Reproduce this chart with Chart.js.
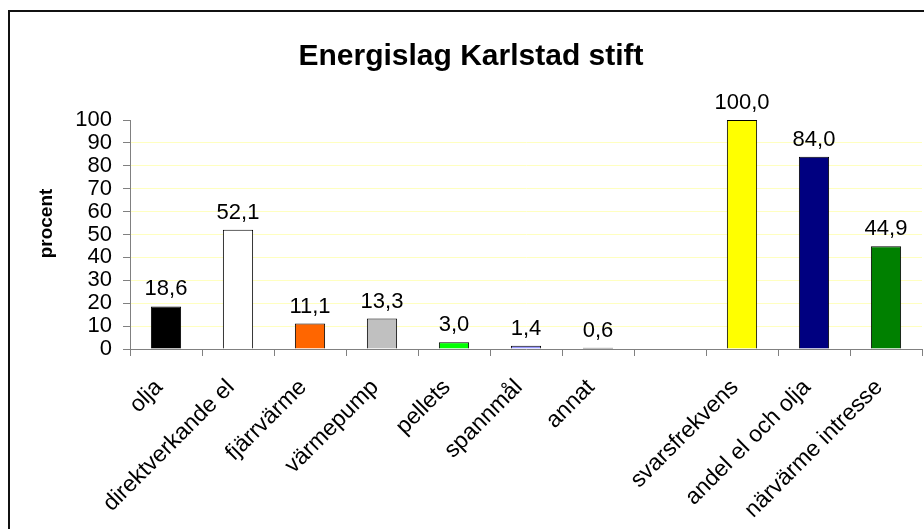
<!DOCTYPE html>
<html>
<head>
<meta charset="utf-8">
<script src="https://cdn.jsdelivr.net/npm/chart.js@4/dist/chart.umd.min.js"></script>
<style>
  html, body { margin: 0; padding: 0; background: #fff; overflow: hidden; }
  #wrap { position: relative; width: 924px; height: 529px; }
  #frame { position: absolute; left: 8px; top: 10px; width: 940px; height: 540px;
           border: 2px solid #111; pointer-events: none; }
</style>
</head>
<body>
<div id="wrap">
  <canvas id="energyChart"></canvas>
  <div id="frame"></div>
</div>
<script>
// Data
const categories = ['olja', 'direktverkande el', 'fjärrvärme', 'värmepump', 'pellets',
                    'spannmål', 'annat', '', 'svarsfrekvens', 'andel el och olja', 'närvärme intresse'];
const values = [18.6, 52.1, 11.1, 13.3, 3.0, 1.4, 0.6, null, 100.0, 84.0, 44.9];
const barColors = ['#000000', '#ffffff', '#ff6600', '#c0c0c0', '#00ff00',
                   '#9999ff', '#000000', '#ffffff', '#ffff00', '#000080', '#008000'];
const yTicks = [0, 10, 20, 30, 40, 50, 60, 70, 80, 90, 100];
const yTitle = 'procent';

const fontFamily = '"Liberation Sans", Arial, sans-serif';

// Draw the value above each bar, e.g. "18,6", and the y axis title
const valueLabels = {
    id: 'valueLabels',
    afterDatasetsDraw(chart) {
        const ctx = chart.ctx;
        const meta = chart.getDatasetMeta(0);
        ctx.save();
        ctx.font = '22px ' + fontFamily;
        ctx.fillStyle = '#000';
        ctx.textAlign = 'center';
        ctx.textBaseline = 'bottom';
        meta.data.forEach((bar, i) => {
            const v = values[i];
            if (v === null) return;
            ctx.fillText(v.toFixed(1).replace('.', ','), bar.x, bar.y - 6);
        });

        // y axis title, sits a bit above the middle of the plot like the original
        ctx.font = 'bold 19px ' + fontFamily;
        ctx.textBaseline = 'middle';
        ctx.translate(47, chart.chartArea.top + (chart.chartArea.bottom - chart.chartArea.top) / 2 - 11);
        ctx.rotate(-Math.PI / 2);
        ctx.fillText(yTitle, 0, 0);
        ctx.restore();
    }
};

function createEnergyChart() {
    const ctx = document.getElementById('energyChart').getContext('2d');
    new Chart(ctx, {
        type: 'bar',
        data: {
            labels: categories,
            datasets: [{
                data: values,
                backgroundColor: barColors,
                borderColor: '#000000',
                borderWidth: 1,
                categoryPercentage: 1.0,
                barPercentage: 0.42
            }]
        },
        options: {
            responsive: true,
            maintainAspectRatio: false,
            animation: false,
            layout: { padding: { left: 20, right: 2, top: 0, bottom: 0 } },
            plugins: {
                legend: { display: false },
                tooltip: { enabled: false },
                title: {
                    display: true,
                    text: 'Energislag Karlstad stift',
                    color: '#000',
                    font: { family: fontFamily, size: 30, weight: 'bold' },
                    padding: { top: 39, bottom: 45 }
                }
            },
            scales: {
                y: {
                    min: 0,
                    max: 100,
                    afterBuildTicks: scale => { scale.ticks = yTicks.map(v => ({ value: v })); },
                    afterFit: scale => { scale.width = 110; },
                    ticks: {
                        color: '#000',
                        font: { family: fontFamily, size: 22 },
                        autoSkip: false,
                        padding: 11
                    },
                    grid: {
                        color: c => (c.tick.value === 0 || c.tick.value === 100) ? 'rgba(0,0,0,0)' : '#ffffc0',
                        tickColor: '#808080',
                        tickLength: 7
                    },
                    border: { color: '#808080', width: 1 }
                },
                x: {
                    afterFit: scale => { scale.height = 180; },
                    ticks: {
                        color: '#000',
                        font: { family: fontFamily, size: 23 },
                        minRotation: 45,
                        maxRotation: 45,
                        autoSkip: false,
                        padding: 18,
                        labelOffset: -7
                    },
                    grid: {
                        offset: true,
                        drawOnChartArea: false,
                        tickColor: '#808080',
                        tickLength: 7
                    },
                    border: { color: '#808080', width: 1 }
                }
            }
        },
        plugins: [valueLabels]
    });
}

window.onload = function() {
    createEnergyChart();
};
</script>
</body>
</html>
